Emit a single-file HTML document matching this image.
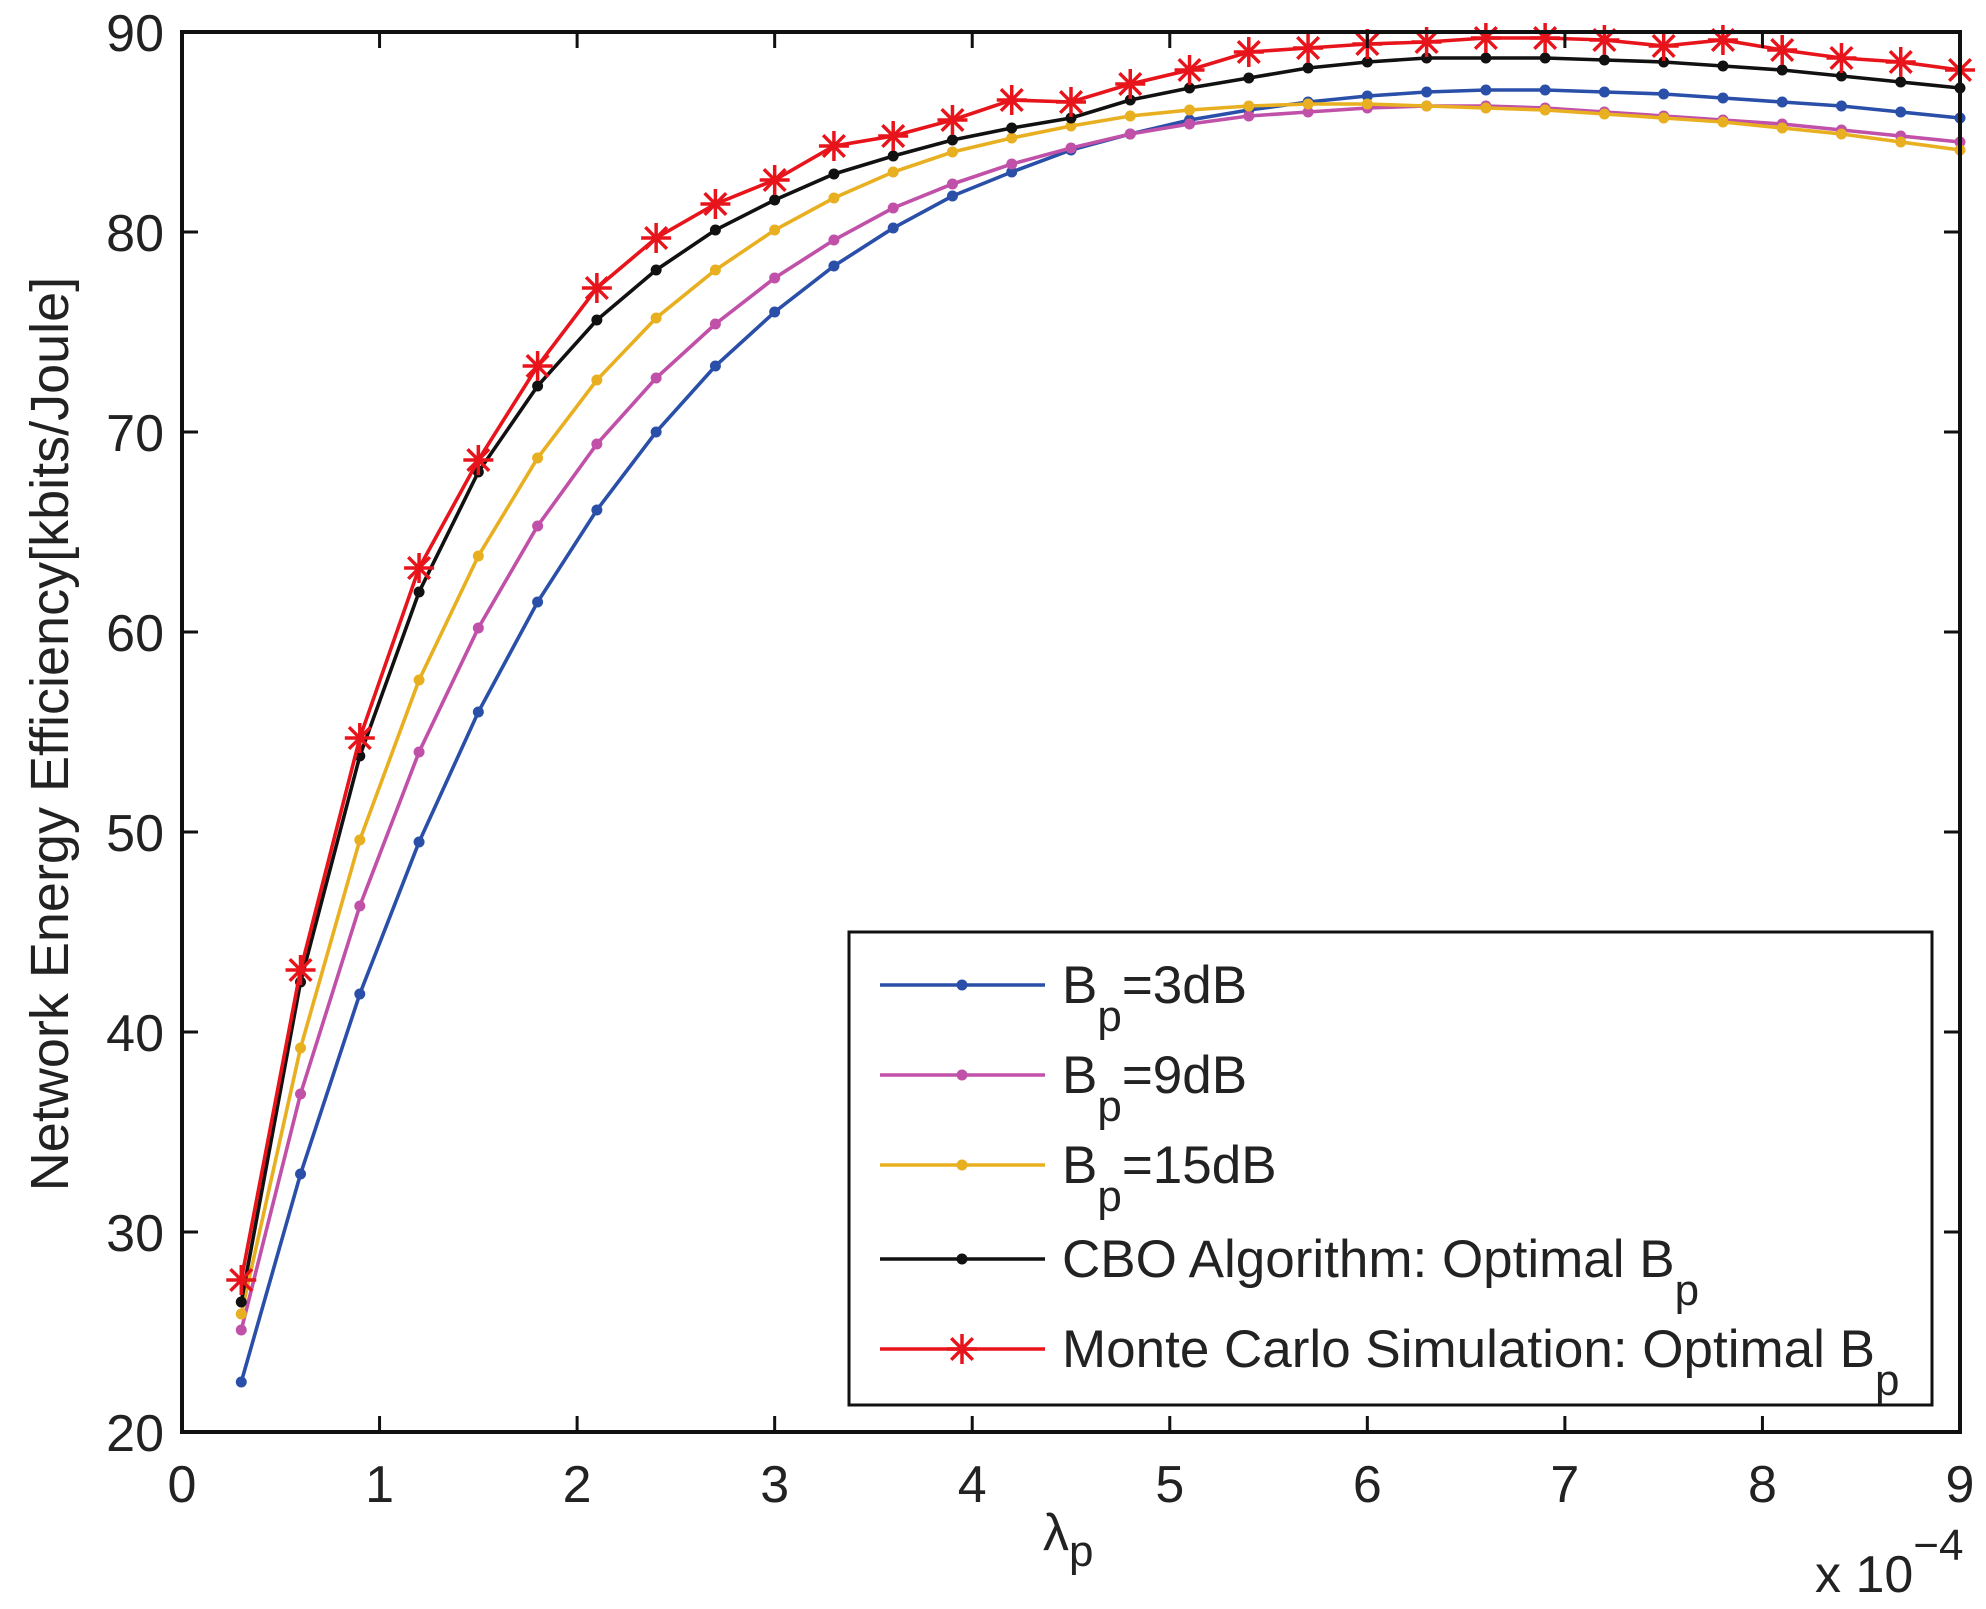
<!DOCTYPE html>
<html><head><meta charset="utf-8"><style>
body{margin:0;background:#fff}
svg text{font-family:"Liberation Sans",sans-serif;fill:#222}
</style></head><body>
<svg id="chart" width="1986" height="1604" viewBox="0 0 1986 1604" xmlns="http://www.w3.org/2000/svg">
<rect width="1986" height="1604" fill="#fff"/>
<g id="series"></g>
<g id="axes"></g>
<g id="legend"></g>
</svg>
<script>
const xValues=[0.3,0.6,0.9,1.2,1.5,1.8,2.1,2.4,2.7,3.0,3.3,3.6,3.9,4.2,4.5,4.8,5.1,5.4,5.7,6.0,6.3,6.6,6.9,7.2,7.5,7.8,8.1,8.4,8.7,9.0];
const bp3=[22.5,32.9,41.9,49.5,56.0,61.5,66.1,70.0,73.3,76.0,78.3,80.2,81.8,83.0,84.1,84.9,85.6,86.1,86.5,86.8,87.0,87.1,87.1,87.0,86.9,86.7,86.5,86.3,86.0,85.7];
const bp9=[25.1,36.9,46.3,54.0,60.2,65.3,69.4,72.7,75.4,77.7,79.6,81.2,82.4,83.4,84.2,84.9,85.4,85.8,86.0,86.2,86.3,86.3,86.2,86.0,85.8,85.6,85.4,85.1,84.8,84.5];
const bp15=[25.9,39.2,49.6,57.6,63.8,68.7,72.6,75.7,78.1,80.1,81.7,83.0,84.0,84.7,85.3,85.8,86.1,86.3,86.4,86.4,86.3,86.2,86.1,85.9,85.7,85.5,85.2,84.9,84.5,84.1];
const cbo=[26.5,42.5,53.8,62.0,68.0,72.3,75.6,78.1,80.1,81.6,82.9,83.8,84.6,85.2,85.7,86.6,87.2,87.7,88.2,88.5,88.7,88.7,88.7,88.6,88.5,88.3,88.1,87.8,87.5,87.2];
const monteCarlo=[27.6,43.1,54.7,63.2,68.6,73.3,77.2,79.7,81.4,82.6,84.3,84.8,85.6,86.6,86.5,87.4,88.1,89.0,89.2,89.4,89.5,89.7,89.7,89.6,89.3,89.6,89.1,88.7,88.5,88.1];
const xTicks=[0,1,2,3,4,5,6,7,8,9];
const yTicks=[20,30,40,50,60,70,80,90];

const L=182,R=1960,T=32,B=1432;
const sx=v=>L+(v-0)/(9-0)*(R-L);
const sy=v=>B-(v-20)/(90-20)*(B-T);
const NS="http://www.w3.org/2000/svg";
function mk(tag,attrs,parent){const e=document.createElementNS(NS,tag);for(const k in attrs)e.setAttribute(k,attrs[k]);parent.appendChild(e);return e;}
const axes=document.getElementById('axes'),series=document.getElementById('series'),legend=document.getElementById('legend');

const frame=mk('rect',{x:L,y:T,width:R-L,height:B-T,fill:'none',stroke:'#111','stroke-width':4},axes);


xTicks.forEach(t=>{
  const x=sx(t);
  const tk=mk('path',{d:`M${x},${B}V${B-16}M${x},${T}V${T+16}`,stroke:'#111','stroke-width':3},axes);
  
  
  const tx=mk('text',{x:x,y:B+70,'font-size':52,'text-anchor':'middle'},axes);tx.textContent=t;
  
  
});
yTicks.forEach(t=>{
  const y=sy(t);
  const tk=mk('path',{d:`M${L},${y}H${L+16}M${R},${y}H${R-16}`,stroke:'#111','stroke-width':3},axes);
  
  
  const tx=mk('text',{x:L-18,y:y+19,'font-size':52,'text-anchor':'end'},axes);tx.textContent=t;
  
  
});
const yl=mk('text',{x:0,y:0,'font-size':54,'text-anchor':'middle',transform:`translate(68,${(T+B)/2+2}) rotate(-90)`},axes);
yl.textContent='Network Energy Efficiency[kbits/Joule]';


const xl=mk('text',{x:1043,y:1550,'font-size':52},axes);
xl.innerHTML='λ<tspan dy="16" font-size="44">p</tspan>';


const ex=mk('text',{x:1815,y:1592,'font-size':52},axes);
ex.innerHTML='x 10<tspan dy="-32" font-size="44">−4</tspan>';



function star(g,x,y,c){
  const s=15;
  mk('path',{d:`M${x-s},${y}H${x+s}M${x},${y-s}V${y+s}M${x-s*0.72},${y-s*0.72}L${x+s*0.72},${y+s*0.72}M${x-s*0.72},${y+s*0.72}L${x+s*0.72},${y-s*0.72}`,stroke:c,'stroke-width':3.5,fill:'none'},g);
}
const defs=[
 {name:'series-bp-3db',data:bp3,color:'#2a4fa8',marker:'dot',label:['B','p','=3dB']},
 {name:'series-bp-9db',data:bp9,color:'#c050a8',marker:'dot',label:['B','p','=9dB']},
 {name:'series-bp-15db',data:bp15,color:'#e8b020',marker:'dot',label:['B','p','=15dB']},
 {name:'series-cbo',data:cbo,color:'#111111',marker:'dot',label:['CBO Algorithm: Optimal B','p','']},
 {name:'series-monte-carlo',data:monteCarlo,color:'#e8141c',marker:'star',label:['Monte Carlo Simulation: Optimal B','p','']}
];
defs.forEach(d=>{
  const g=mk('g',{},series);
  
  
  const pts=xValues.map((x,i)=>sx(x)+','+sy(d.data[i])).join(' ');
  mk('polyline',{points:pts,fill:'none',stroke:d.color,'stroke-width':3.6},g);
  xValues.forEach((x,i)=>{
    if(d.marker==='dot')mk('circle',{cx:sx(x),cy:sy(d.data[i]),r:5.5,fill:d.color},g);
    else star(g,sx(x),sy(d.data[i]),d.color);
  });
});
const lb=mk('rect',{x:849,y:932,width:1083,height:473,fill:'#fff',stroke:'#111','stroke-width':3},legend);


const rows=[985,1075,1165,1259,1349];
defs.forEach((d,i)=>{
  const g=mk('g',{},legend);
  
  
  const y=rows[i];
  mk('line',{x1:880,x2:1045,y1:y,y2:y,stroke:d.color,'stroke-width':3.6},g);
  if(d.marker==='dot')mk('circle',{cx:962,cy:y,r:5.5,fill:d.color},g);else star(g,962,y,d.color);
  const t=mk('text',{x:1062,y:y+18,'font-size':53},g);
  t.innerHTML=d.label[0]+'<tspan dy="28" font-size="44">'+d.label[1]+'</tspan>'+(d.label[2]?'<tspan dy="-28">'+d.label[2]+'</tspan>':'');
});
</script>
</body></html>
